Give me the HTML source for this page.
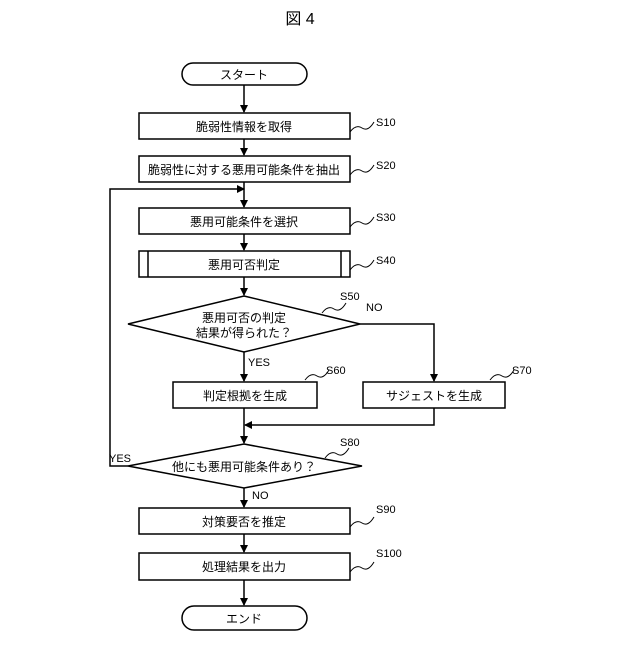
<!DOCTYPE html>
<html><head><meta charset="utf-8"><style>
body{margin:0;background:#fff}
svg text{font-family:"Liberation Sans","Noto Sans CJK JP",sans-serif;fill:#000}
</style></head><body>
<svg width="640" height="640" viewBox="0 0 640 640" xmlns="http://www.w3.org/2000/svg">
<defs><marker id="a" markerWidth="8" markerHeight="8" refX="7" refY="4" orient="auto" markerUnits="userSpaceOnUse"><path d="M0,0 L8,4 L0,8 z" fill="#000"/></marker></defs>
<text x="300" y="24" font-size="16" text-anchor="middle">図 4</text>
<g fill="none" stroke="#000" stroke-width="1.5">
<rect x="182" y="63" width="125" height="22" rx="11"/>
<rect x="139" y="113" width="211" height="26"/>
<rect x="139" y="156" width="211" height="26"/>
<rect x="139" y="208" width="211" height="26"/>
<rect x="139" y="251" width="211" height="26"/>
<line x1="148" y1="251" x2="148" y2="277"/><line x1="341" y1="251" x2="341" y2="277"/>
<polygon points="244,296 360,324 244,352 128,324"/>
<rect x="173" y="382" width="144" height="26"/>
<rect x="363" y="382" width="142" height="26"/>
<polygon points="244,444 362,466 244,488 128,466"/>
<rect x="139" y="508" width="211" height="26"/>
<rect x="139" y="553" width="211" height="27"/>
<rect x="182" y="606" width="125" height="24" rx="12"/>
<g marker-end="url(#a)">
<line x1="244" y1="85" x2="244" y2="112"/>
<line x1="244" y1="139" x2="244" y2="155"/>
<line x1="244" y1="182" x2="244" y2="207"/>
<line x1="244" y1="234" x2="244" y2="250"/>
<line x1="244" y1="277" x2="244" y2="295"/>
<line x1="244" y1="352" x2="244" y2="381"/>
<polyline points="360,324 434,324 434,381"/>
<polyline points="434,408 434,425 245,425"/>
<line x1="244" y1="408" x2="244" y2="443"/>
<polyline points="128,466 110,466 110,189 244,189"/>
<line x1="244" y1="488" x2="244" y2="507"/>
<line x1="244" y1="534" x2="244" y2="552"/>
<line x1="244" y1="580" x2="244" y2="605"/>
</g>
<g stroke-width="1">
<path d="M350,132 q6,-8 12,-4 t12,-6"/>
<path d="M350,175 q6,-8 12,-4 t12,-6"/>
<path d="M350,227 q6,-8 12,-4 t12,-6"/>
<path d="M350,270 q6,-8 12,-4 t12,-6"/>
<path d="M322,313 q6,-8 12,-4 t12,-6"/>
<path d="M305,380 q6,-8 12,-4 t12,-6"/>
<path d="M490,380 q6,-8 12,-4 t12,-6"/>
<path d="M325,458 q6,-8 12,-4 t12,-6"/>
<path d="M350,527 q6,-8 12,-4 t12,-6"/>
<path d="M350,572 q6,-8 12,-4 t12,-6"/>
</g>
</g>
<g font-size="12" text-anchor="middle">
<text x="244" y="79">スタート</text>
<text x="244" y="131">脆弱性情報を取得</text>
<text x="244" y="174">脆弱性に対する悪用可能条件を抽出</text>
<text x="244" y="226">悪用可能条件を選択</text>
<text x="244" y="269">悪用可否判定</text>
<text x="244" y="322">悪用可否の判定</text>
<text x="244" y="337">結果が得られた？</text>
<text x="245" y="400">判定根拠を生成</text>
<text x="434" y="400">サジェストを生成</text>
<text x="244" y="471">他にも悪用可能条件あり？</text>
<text x="244" y="526">対策要否を推定</text>
<text x="244" y="571">処理結果を出力</text>
<text x="244" y="623">エンド</text>
</g>
<g font-size="11">
<text x="376" y="126">S10</text>
<text x="376" y="169">S20</text>
<text x="376" y="221">S30</text>
<text x="376" y="264">S40</text>
<text x="340" y="300">S50</text>
<text x="366" y="311">NO</text>
<text x="248" y="366">YES</text>
<text x="326" y="374">S60</text>
<text x="512" y="374">S70</text>
<text x="340" y="446">S80</text>
<text x="109" y="462">YES</text>
<text x="252" y="499">NO</text>
<text x="376" y="513">S90</text>
<text x="376" y="557">S100</text>
</g>
</svg>
</body></html>
